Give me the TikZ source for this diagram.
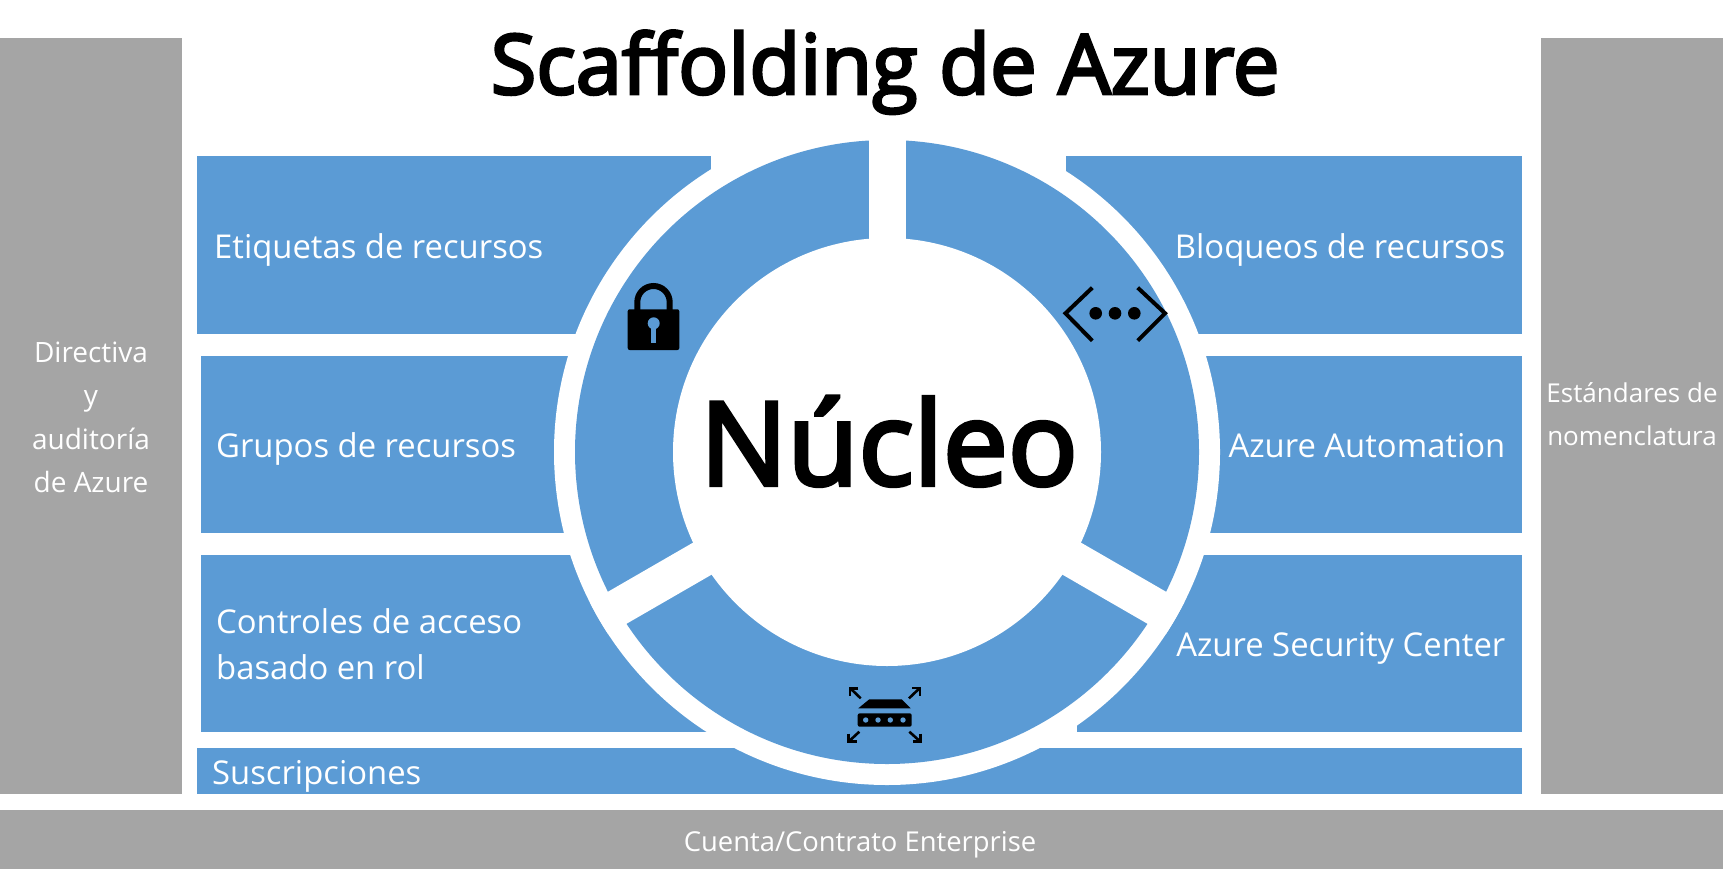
\documentclass[tikz,border=0pt]{standalone}
\usepackage{fontspec}
\setmainfont{Open Sans}
\newfontfamily\headfont{Open Sans}[FakeBold=3.5]
\definecolor{azblue}{HTML}{5B9BD5}
\definecolor{azgray}{HTML}{A5A5A5}
\tikzset{
  bluebox/.style={fill=azblue,draw=none},
  graybox/.style={fill=azgray,draw=none},
  lab/.style={text=white,font=\fontsize{32.8}{32.8}\selectfont,inner sep=0pt,anchor=base west},
  labr/.style={text=white,font=\fontsize{32.8}{32.8}\selectfont,inner sep=0pt,anchor=base east},
  glab/.style={text=white,font=\fontsize{28}{28}\selectfont,inner sep=0pt,anchor=base},
  icon/.style={fill=black,draw=none},
  iconline/.style={draw=black,line width=4pt},
  routerline/.style={draw=black,line width=2.6pt}
}
\begin{document}
\begin{tikzpicture}[x=1pt,y=-1pt]
\useasboundingbox (0,0) rectangle (1731,886);
\fill[white] (0,0) rectangle (1731,886);
% gray bars
\fill[graybox] (0,37.5) rectangle (182,794);
\fill[graybox] (1541,37.5) rectangle (1723,794);
\fill[graybox] (0,810) rectangle (1723,869);
% blue boxes
\fill[bluebox] (197,156) rectangle (711,334);
\fill[bluebox] (201,356) rectangle (700,533);
\fill[bluebox] (201,555) rectangle (720,732);
\fill[bluebox] (1065.7,156) rectangle (1522,334);
\fill[bluebox] (1000,356) rectangle (1522,533);
\fill[bluebox] (1076.7,555) rectangle (1522,732);
\fill[bluebox] (197,748) rectangle (1522,794);
% ring
\fill[white] (887,452) circle[radius=333];
\fill[azblue] (887,452) circle[radius=312];
\fill[white] (887,452) circle[radius=214];
% gaps
\fill[white] (868.5,120) rectangle (905.5,300);
\begin{scope}
\clip (887,452) circle[radius=333];
\fill[white,shift={(887,452)},rotate=30] (-340,-18.5) rectangle (0,18.5);
\fill[white,shift={(887,452)},rotate=-30] (0,-18.5) rectangle (340,18.5);
\end{scope}
% lock
\draw[draw=black,line width=6pt] (637.3,312) -- (637.3,302.2) arc[start angle=180,end angle=360,radius=16.2] -- (669.7,312);
\fill[icon,rounded corners=2pt] (627.7,309.3) rectangle (679.3,350);
\fill[azblue] (653.7,323.3) circle[radius=6];
\fill[azblue] (651.2,323.3) rectangle (656.2,343);
% code
\draw[iconline,line join=miter] (1092.3,287.7) -- (1065.5,313.3) -- (1092.3,340.7);
\draw[iconline,line join=miter] (1137.7,287.7) -- (1165,313.3) -- (1137.7,340.7);
\fill[icon] (1095.7,313.3) circle[radius=6.3];
\fill[icon] (1115,313.3) circle[radius=6.3];
\fill[icon] (1134.3,313.3) circle[radius=6.3];
% router
\fill[icon] (858.3,708.3) -- (869.3,699.3) -- (901.7,699.3) -- (910.7,708.3) -- cycle;
\fill[icon,rounded corners=2pt] (857.7,713.3) rectangle (911.7,726.7);
\foreach \x in {865.7,878,890.3,903} \fill[azblue] (\x,720) circle[radius=2.7];
\draw[routerline] (860.7,698.3) -- (850.5,688.5);
\draw[routerline] (858,688.5) -- (850,688.5) -- (850,696);
\draw[routerline] (909,698.3) -- (919.5,688.3);
\draw[routerline] (912,688) -- (920,688) -- (920,696);
\draw[routerline] (859.3,731.7) -- (849,741.3);
\draw[routerline] (848.5,733.5) -- (848.5,741.7) -- (856.5,741.7);
\draw[routerline] (909.3,731.7) -- (920,741.3);
\draw[routerline] (920.5,733.5) -- (920.5,741.7) -- (912.5,741.7);
% texts
\node[font=\headfont\fontsize{83}{83}\selectfont,inner sep=0pt,anchor=base] (title) at (885,94) {Scaffolding de Azure};
\node[font=\headfont\fontsize{115.8}{116}\selectfont,inner sep=0pt,anchor=base] (core) at (889,485) {Núcleo};
\node[lab] (t1) at (214,258) {Etiquetas de recursos};
\node[lab] (t2) at (216,457) {Grupos de recursos};
\node[lab] (t3) at (216,633) {Controles de acceso};
\node[lab] (t4) at (216,679) {basado en rol};
\node[lab] (t5) at (212,784) {Suscripciones};
\node[labr] (r1) at (1505.5,258) {Bloqueos de recursos};
\node[labr] (r2) at (1505.5,457) {Azure Automation};
\node[labr] (r3) at (1505.5,656) {Azure Security Center};
\node[glab] (g1) at (91,362) {Directiva};
\node[glab] (g2) at (91,405) {y};
\node[glab] (g3) at (91,449) {auditoría};
\node[glab] (g4) at (91,492) {de Azure};
\node[glab,font=\fontsize{26}{26}\selectfont] (g5) at (1632,402) {Estándares de};
\node[glab,font=\fontsize{26}{26}\selectfont] (g6) at (1632,445.5) {nomenclatura};
\node[glab,font=\fontsize{27.4}{27.4}\selectfont] (g7) at (860,851) {Cuenta/Contrato Enterprise};
\end{tikzpicture}
\end{document}
